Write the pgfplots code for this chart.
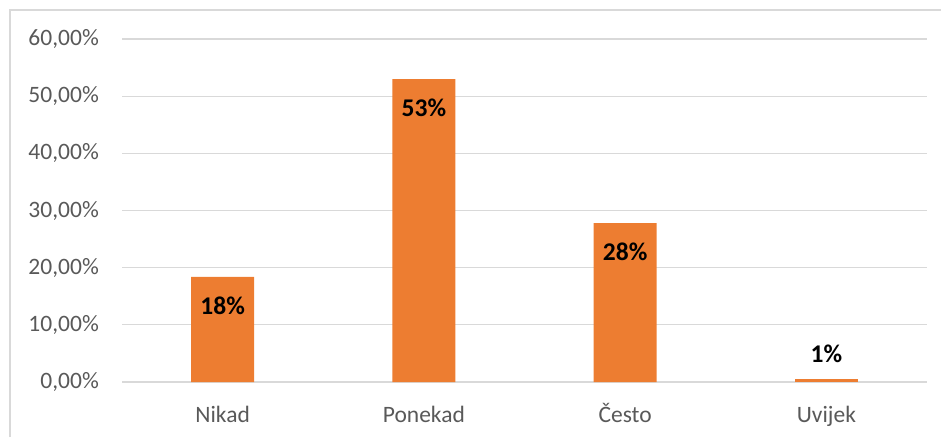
\documentclass[border=0pt]{standalone}
\usepackage{pgfplots}
\pgfplotsset{compat=1.18}
\usepackage{fontspec}
\setmainfont{Carlito}
\definecolor{barorange}{HTML}{ED7D31}
\definecolor{gridgray}{HTML}{D9D9D9}
\definecolor{textgray}{HTML}{595959}
\begin{document}
\begin{tikzpicture}[x=1pt,y=1pt]
\useasboundingbox (0,0) rectangle (941,437);
\draw[gridgray, line width=1.2pt] (10,0) -- (10,427) -- (941,427);
\begin{axis}[
  at={(122pt,55pt)}, anchor=south west,
  scale only axis, width=805pt, height=343pt,
  xmin=-0.5, xmax=3.5, ymin=0, ymax=60,
  ytick={0,10,...,60},
  yticklabels={{0,00\%},{10,00\%},{20,00\%},{30,00\%},{40,00\%},{50,00\%},{60,00\%}},
  xtick={0,1,2,3},
  xticklabels={Nikad,Ponekad,Često,Uvijek},
  axis line style={draw=none},
  major tick length=0pt,
  ymajorgrids, grid style={gridgray, line width=1.2pt},
  tick label style={font=\fontsize{23.5}{28}\selectfont, text=textgray, inner sep=0pt},
  yticklabel style={anchor=east, xshift=-23pt},
  xticklabel style={anchor=base, yshift=-40pt},
  ybar, bar width=63pt,
  clip=false,
]
\addplot[fill=barorange, draw=none, bar shift=0pt,
  nodes near coords={\pgfmathprintnumber[fixed,precision=0,assume math mode=true]{\pgfplotspointmeta}\%},
  every node near coord/.append style={font=\bfseries\fontsize{25.5}{30}\selectfont, text=black, anchor=north, inner sep=0pt, yshift=-20pt}]
  coordinates {(0,18.4) (1,53.0) (2,27.8)};
\addplot[fill=barorange, draw=none, bar shift=0pt,
  nodes near coords={\pgfmathprintnumber[fixed,precision=0,assume math mode=true]{\pgfplotspointmeta}\%},
  every node near coord/.append style={font=\bfseries\fontsize{25.5}{30}\selectfont, text=black, anchor=south, inner sep=0pt, text depth=0pt, yshift=16pt}]
  coordinates {(3,0.6)};
\end{axis}
\end{tikzpicture}
\end{document}
